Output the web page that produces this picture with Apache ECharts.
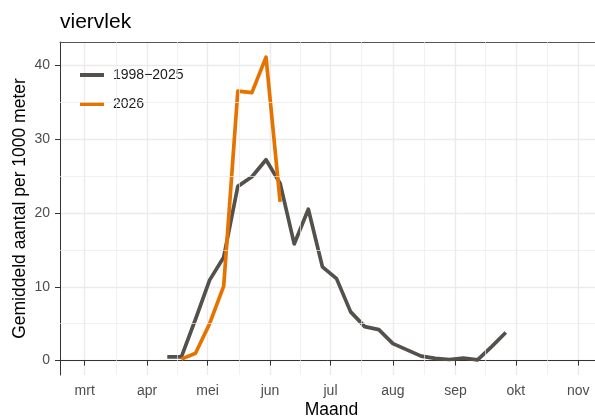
<!DOCTYPE html>
<html>
<head>
<meta charset="utf-8">
<script src="https://cdn.jsdelivr.net/npm/echarts@6/dist/echarts.min.js"></script>
<style>
  html, body { margin: 0; padding: 0; background: #fff; }
  #chart { width: 595px; height: 417px; }
</style>
</head>
<body>
<div id="chart"></div>
<script>
// weekly dates
const weken = [
  '2026-04-11', '2026-04-18', '2026-04-25', '2026-05-02', '2026-05-09',
  '2026-05-16', '2026-05-23', '2026-05-30', '2026-06-06', '2026-06-13',
  '2026-06-20', '2026-06-27', '2026-07-04', '2026-07-11', '2026-07-18',
  '2026-07-25', '2026-08-01', '2026-08-08', '2026-08-15', '2026-08-22',
  '2026-08-29', '2026-09-05', '2026-09-12', '2026-09-19', '2026-09-26',
]
const gemiddeld = [
  0.5, 0.5, 5.6, 10.9, 14.0, 23.6, 24.9, 27.2, 24.0, 15.8,
  20.5, 12.7, 11.1, 6.6, 4.6, 4.2, 2.3, 1.45, 0.6, 0.3,
  0.15, 0.35, 0.1, 1.9, 3.8,
]
const weken2026 = [
  '2026-04-18', '2026-04-25', '2026-05-02', '2026-05-09',
  '2026-05-16', '2026-05-23', '2026-05-30', '2026-06-06',
]
const waarden2026 = [0.2, 1.0, 5.0, 10.1, 36.5, 36.3, 41.1, 21.5]

const xTicks = [
  '2026-03-01', '2026-04-01', '2026-05-01', '2026-06-01', '2026-07-01',
  '2026-08-01', '2026-09-01', '2026-10-01', '2026-11-01',
]
const xTickLabels = ['mrt', 'apr', 'mei', 'jun', 'jul', 'aug', 'sep', 'okt', 'nov']
const yTicks = [0, 10, 20, 30, 40]

const font = '"Liberation Sans", Arial, sans-serif'
const grid = '#ebebeb'

const t = d => Date.parse(d + 'T00:00:00Z')
const xTickTimes = xTicks.map(t)
const xMinor = xTickTimes.slice(1).map((v, i) => (v + xTickTimes[i]) / 2)
const yMinor = yTicks.slice(1).map((v, i) => (v + yTicks[i]) / 2)
const xMin = t('2026-02-16') + 0.75 * 86400000
const xMax = t('2026-11-13') + 0.25 * 86400000

const chart = echarts.init(document.getElementById('chart'))
chart.setOption({
  animation: false,
  backgroundColor: '#fff',
  title: {
    text: 'viervlek',
    left: 60,
    top: 12,
    padding: 0,
    textStyle: { fontFamily: font, fontSize: 21, fontWeight: 'normal', color: '#000' },
  },
  legend: {
    data: ['1998−2025', '2026'],
    orient: 'vertical',
    left: 75,
    top: 63,
    itemWidth: 24,
    itemHeight: 4,
    itemGap: 15,
    icon: 'rect',
    textStyle: { fontFamily: font, fontSize: 14, color: '#1a1a1a', padding: [0, 0, 0, 4] },
  },
  grid: {
    left: 60,
    width: 543,
    top: 42,
    bottom: 42,
    outerBoundsMode: 'none',
    containLabel: false,
  },
  xAxis: [{
    type: 'value',
    min: xMin,
    max: xMax,
    name: 'Maand',
    nameLocation: 'middle',
    nameGap: 26,
    nameMoveOverlap: false,
    nameTextStyle: { fontFamily: font, fontSize: 17.5, color: '#000' },
    axisLine: { show: true, lineStyle: { color: '#333', width: 1 } },
    axisTick: { show: true, length: 5, customValues: xTickTimes, lineStyle: { color: '#333' } },
    axisLabel: {
      customValues: xTickTimes,
      margin: 9,
      fontFamily: font,
      fontSize: 14,
      color: '#4d4d4d',
      formatter: v => xTickLabels[xTickTimes.indexOf(+v)] ?? '',
    },
    splitLine: { show: true, lineStyle: { color: grid, width: 1.4 } },
  }, {
    // top border of the panel
    type: 'value',
    position: 'top',
    min: xMin,
    max: xMax,
    axisLine: { show: true, onZero: false, lineStyle: { color: '#555', width: 1 } },
    axisTick: { show: false },
    axisLabel: { show: false },
    splitLine: { show: false },
  }],
  yAxis: {
    type: 'value',
    min: -1.95,
    max: 43.15,
    name: 'Gemiddeld aantal per 1000 meter',
    nameLocation: 'middle',
    nameRotate: 90,
    nameGap: 31,
    nameMoveOverlap: false,
    nameTextStyle: { fontFamily: font, fontSize: 17.5, color: '#000' },
    axisLine: { show: true, lineStyle: { color: '#333', width: 1 } },
    axisTick: { show: true, length: 5, customValues: yTicks, lineStyle: { color: '#333' } },
    axisLabel: {
      customValues: yTicks,
      margin: 10,
      fontFamily: font,
      fontSize: 14,
      color: '#4d4d4d',
    },
    splitLine: { show: true, lineStyle: { color: grid, width: 1.4 } },
  },
  series: [
    {
      // minor grid lines
      type: 'line',
      data: [],
      z: 1,
      silent: true,
      markLine: {
        silent: true,
        symbol: ['none', 'none'],
        label: { show: false },
        lineStyle: { color: grid, width: 0.7, type: 'solid' },
        data: [
          ...xMinor.map(v => ({ xAxis: v })),
          ...yMinor.map(v => ({ yAxis: v })),
        ],
      },
    },
    {
      name: '1998−2025',
      type: 'line',
      color: '#54504b',
      showSymbol: false,
      data: weken.map((d, i) => [t(d), gemiddeld[i]]),
      lineStyle: { width: 3.7, join: 'round' },
    },
    {
      name: '2026',
      type: 'line',
      color: '#e67300',
      showSymbol: false,
      data: weken2026.map((d, i) => [t(d), waarden2026[i]]),
      lineStyle: { width: 3.7, join: 'round' },
    },
  ],
})
</script>
</body>
</html>
